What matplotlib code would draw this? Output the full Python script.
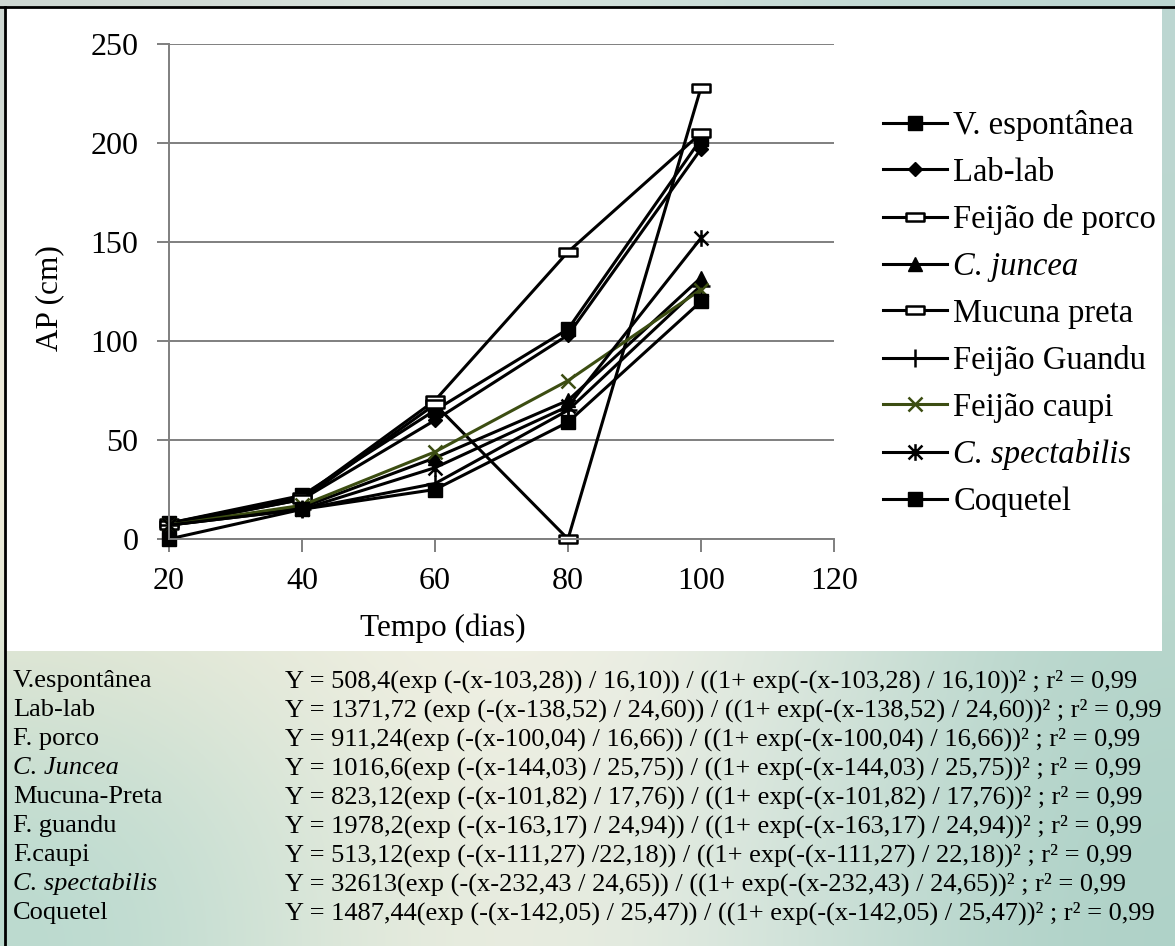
import numpy as np
import matplotlib
matplotlib.use('Agg')
import matplotlib.pyplot as plt
from matplotlib.path import Path
from matplotlib.patches import Rectangle
from matplotlib.lines import Line2D

# dados
dias = [20, 40, 60, 80, 100]
v_espontanea = [8, 22, 65, 106, 202]
lab_lab = [7, 20, 60, 103, 197]
feijao_porco = [8, 21, 70, 145, 205]
c_juncea = [7, 16, 41, 70, 132]
mucuna_preta = [7, 20, 68, 0, 228]
feijao_guandu = [7, 15, 28, 65, 128]
feijao_caupi = [7, 17, 44, 80, 126]
c_spectabilis = [7, 15, 36, 67, 152]
coquetel = [0, 15, 25, 59, 120]

nomes = ['V. espontânea', 'Lab-lab', 'Feijão de porco', 'C. juncea', 'Mucuna preta',
         'Feijão Guandu', 'Feijão caupi', 'C. spectabilis', 'Coquetel']

eq_nomes = ['V.espontânea', 'Lab-lab', 'F. porco', 'C. Juncea', 'Mucuna-Preta',
            'F. guandu', 'F.caupi', 'C. spectabilis', 'Coquetel']
equacoes = [
    'Y = 508,4(exp (-(x-103,28)) / 16,10)) / ((1+ exp(-(x-103,28) / 16,10))² ; r² = 0,99',
    'Y = 1371,72 (exp (-(x-138,52) / 24,60)) / ((1+ exp(-(x-138,52) / 24,60))² ; r² = 0,99',
    'Y = 911,24(exp (-(x-100,04) / 16,66)) / ((1+ exp(-(x-100,04) / 16,66))² ; r² = 0,99',
    'Y = 1016,6(exp (-(x-144,03) / 25,75)) / ((1+ exp(-(x-144,03) / 25,75))² ; r² = 0,99',
    'Y = 823,12(exp (-(x-101,82) / 17,76)) / ((1+ exp(-(x-101,82) / 17,76))² ; r² = 0,99',
    'Y = 1978,2(exp (-(x-163,17) / 24,94)) / ((1+ exp(-(x-163,17) / 24,94))² ; r² = 0,99',
    'Y = 513,12(exp (-(x-111,27) /22,18)) / ((1+ exp(-(x-111,27) / 22,18))² ; r² = 0,99',
    'Y = 32613(exp (-(x-232,43 / 24,65)) / ((1+ exp(-(x-232,43) / 24,65))² ; r² = 0,99',
    'Y = 1487,44(exp (-(x-142,05) / 25,47)) / ((1+ exp(-(x-142,05) / 25,47))² ; r² = 0,99',
]

plt.rcParams['font.family'] = ['Liberation Serif', 'DejaVu Serif']

W, H = 1175, 946
fig = plt.figure(figsize=(W / 100, H / 100), dpi=100)

# fundo (textura aproximada)
bg = fig.add_axes([0, 0, 1, 1])
bg.set_axis_off()
cores = np.array([
    [[0.80, 0.84, 0.82], [0.86, 0.90, 0.88], [0.78, 0.86, 0.84], [0.74, 0.84, 0.82]],
    [[0.95, 0.93, 0.86], [0.96, 0.95, 0.90], [0.90, 0.93, 0.90], [0.72, 0.84, 0.80]],
    [[0.93, 0.92, 0.84], [0.96, 0.95, 0.90], [0.94, 0.94, 0.90], [0.72, 0.84, 0.80]],
    [[0.72, 0.85, 0.81], [0.95, 0.94, 0.88], [0.86, 0.91, 0.88], [0.68, 0.82, 0.78]],
])
bg.imshow(cores, extent=[0, 1, 0, 1], aspect='auto', interpolation='bicubic')
bg.set_xlim(0, 1)
bg.set_ylim(0, 1)
bg.add_patch(Rectangle((6 / W, 1 - 651 / H), 1156 / W, 644 / H, facecolor='white',
                       edgecolor='none', transform=fig.transFigure))
fig.add_artist(Line2D([0, 1], [1 - 7 / H, 1 - 7 / H], color='black', lw=2,
                      transform=fig.transFigure))
fig.add_artist(Line2D([5 / W, 5 / W], [0, 1 - 7 / H], color='black', lw=2,
                      transform=fig.transFigure))

ax = fig.add_axes([169 / W, 1 - 539 / H, 665 / W, 495 / H])
ax.set_facecolor('none')

ret = Path([(-1, -0.45), (1, -0.45), (1, 0.45), (-1, 0.45), (-1, -0.45)],
           [Path.MOVETO, Path.LINETO, Path.LINETO, Path.LINETO, Path.CLOSEPOLY])
asterisco = Path([(-1, -1), (1, 1), (-1, 1), (1, -1), (0, -1.2), (0, 1.2)],
                 [Path.MOVETO, Path.LINETO, Path.MOVETO, Path.LINETO, Path.MOVETO, Path.LINETO])

series = [v_espontanea, lab_lab, feijao_porco, c_juncea, mucuna_preta,
          feijao_guandu, feijao_caupi, c_spectabilis, coquetel]
estilos = [
    dict(marker='s', ms=10, mfc='black'),
    dict(marker='D', ms=7, mfc='black'),
    dict(marker=ret, ms=13, mfc='white', mew=1.8),
    dict(marker='^', ms=10, mfc='black'),
    dict(marker=ret, ms=13, mfc='white', mew=1.8),
    dict(marker='+', ms=13, mew=1.8),
    dict(marker='x', ms=10, mew=1.8),
    dict(marker=asterisco, ms=12, mew=1.8),
    dict(marker='s', ms=10, mfc='black'),
]
cores_linha = ['black'] * 9
cores_linha[6] = '#3c4d12'

for y, nome, est, c in zip(series, nomes, estilos, cores_linha):
    ax.plot(dias, y, color=c, lw=2.2, mec=c, label=nome, clip_on=False, **est)

ax.set_xlim(20, 120)
ax.set_ylim(0, 250)
ax.set_xticks(range(20, 121, 20))
ax.set_yticks(range(0, 251, 50))
ax.yaxis.grid(True, color='#7f7f7f', lw=1.4)
ax.set_axisbelow(True)
for s in ['top', 'right']:
    ax.spines[s].set_visible(False)
for s in ['left', 'bottom']:
    ax.spines[s].set_color('#7f7f7f')
    ax.spines[s].set_linewidth(1.4)
ax.tick_params(axis='both', direction='out', length=9, width=1.4, color='#7f7f7f',
               labelsize=23, pad=13)
ax.tick_params(axis='x', pad=11)

fig.text(443 / W, 1 - 628 / H, 'Tempo (dias)', fontsize=22.5, ha='center', va='center')
fig.text(50 / W, 1 - 298 / H, 'AP (cm)', fontsize=22.5, ha='center', va='center', rotation=90)

leg = fig.legend(loc='upper left', bbox_to_anchor=(883 / W, 1 - 110 / H), frameon=False,
                 fontsize=23.5, handlelength=1.95, handletextpad=0.2, labelspacing=0.5,
                 borderpad=0, borderaxespad=0)
for i in (3, 7):
    leg.get_texts()[i].set_style('italic')

for i, (n, e) in enumerate(zip(eq_nomes, equacoes)):
    yy = 1 - (681 + 29 * i) / H
    fig.text(13 / W, yy, n, fontsize=19, va='center',
             style='italic' if i in (3, 7) else 'normal')
    fig.text(285 / W, yy, e, fontsize=19, va='center')

fig.savefig('out.png', dpi=100)
